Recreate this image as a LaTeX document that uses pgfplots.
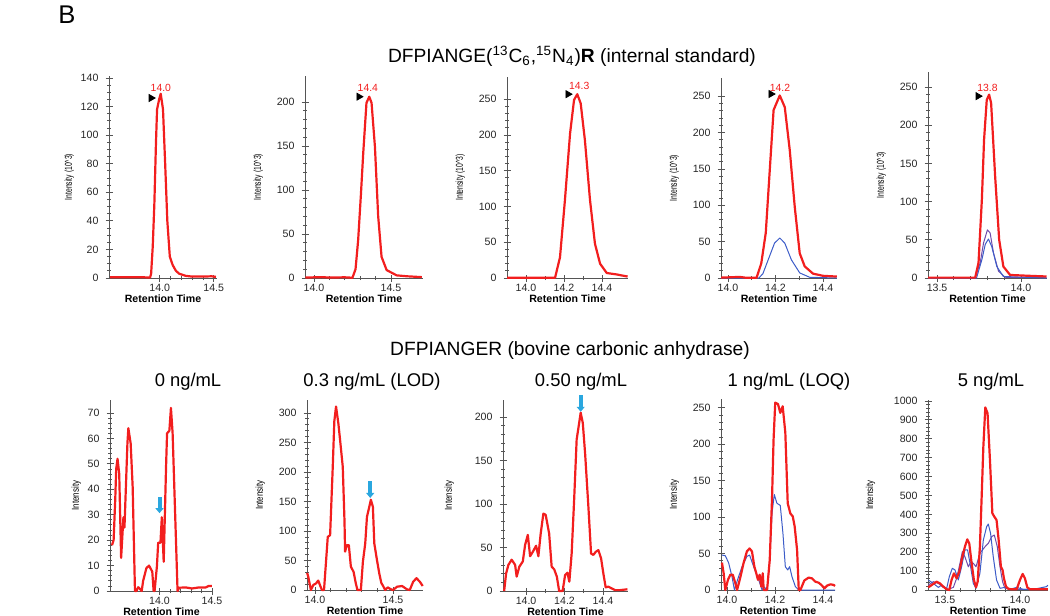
\documentclass[border=0pt]{standalone}
\usepackage{fontspec}
\setmainfont{Liberation Sans}
\usepackage{graphicx}
\usepackage{pgfplots}
\pgfplotsset{compat=1.18}
\usetikzlibrary{arrows.meta}

\definecolor{trred}{HTML}{F21E1E}
\definecolor{trblue}{HTML}{3C5CC8}
\definecolor{trpurple}{HTML}{6F4BAA}
\definecolor{arrowblue}{HTML}{2AA7DF}
\definecolor{axgray}{HTML}{555555}

\newcommand\ticksize{\fontsize{5.3}{6}\selectfont}

\pgfplotsset{
  panel/.style={
    anchor=south west, scale only axis, clip=false,
    axis lines*=left,
    axis line style={axgray, line width=0.5pt},
    tick align=center, major tick length=3.5pt, minor tick length=2pt,
    tick style={axgray, line width=0.4pt},
    tick label style={font=\ticksize, text=black!85},
    /pgf/number format/assume math mode=true,
    /pgf/number format/1000 sep={},
    scaled ticks=false,
    ymin=0,
    xticklabel style={yshift=2pt, /pgf/number format/fixed, /pgf/number format/fixed zerofill, /pgf/number format/precision=1},
    xlabel={\textbf{Retention Time}},
    xlabel style={font=\ticksize, at={(axis description cs:0.5,0)}, anchor=center, yshift=-10.5pt},
    ylabel style={font=\fontsize{5}{6}\selectfont},
  },
  top/.style={panel, ylabel={\scalebox{0.68}[1]{Intensity (10\textasciicircum 3)}}},
  bottom/.style={panel, ylabel={\scalebox{0.8}[1]{Intensity}}},
  red trace/.style={trred, line width=1.1pt, line join=round},
  blue trace/.style={trblue, line width=0.5pt, line join=round},
  purple trace/.style={trpurple, line width=0.5pt, line join=round},
  apex/.style={only marks, mark=triangle*, mark size=2pt, mark options={rotate=-90, fill=black, draw=black}, forget plot},
  pointer/.style={arrowblue, line width=2pt, -{Triangle[width=4pt, length=2.5pt]}, forget plot},
}
\newcommand\peaklabel[2]{\node[font=\fontsize{5.2}{6}\selectfont, text=trred, inner sep=0pt] at #1 {#2};}

\begin{document}
\begin{tikzpicture}
\path[use as bounding box] (0,0) rectangle (525pt,-308pt);

\begin{scope}[x=0.5pt, y=-0.5pt]
  \node[anchor=base west, inner sep=0pt, font=\fontsize{12.8}{14}\selectfont] at (58,23) {B};
  \node[anchor=base, inner sep=0pt, font=\fontsize{9.6}{11}\selectfont] at (572,62.5)
    {DFPIANGE(\textsuperscript{13}C\textsubscript{6},\textsuperscript{15}N\textsubscript{4})\textbf{R} (internal standard)};
  \node[anchor=base, inner sep=0pt, font=\fontsize{9.6}{11}\selectfont] at (570,355)
    {DFPIANGER (bovine carbonic anhydrase)};
  \begin{scope}[every node/.style={anchor=base, inner sep=0pt, font=\fontsize{9.2}{11}\selectfont}]
    \node at (188,386) {0 ng/mL};
    \node at (372,386) {0.3 ng/mL (LOD)};
    \node at (581,386) {0.50 ng/mL};
    \node at (789,386) {1 ng/mL (LOQ)};
    \node at (991,386) {5 ng/mL};
  \end{scope}
\end{scope}

% ---------------- internal standard row ----------------
\begin{axis}[top, at={(54.5pt,-139pt)}, width=54pt, height=101pt,
  ylabel shift=-3.5pt,
  xmin=13.53, xmax=14.53, ymax=141.4,
  xtick={14.0,14.5}, minor x tick num=4,
  ytick={0,20,...,140}, minor y tick num=3]
\addplot[red trace] coordinates {
  (13.54,0.6) (13.70,0.5) (13.85,0.5) (13.91,0.3) (13.92,3) (13.935,22) (13.95,52)
  (13.965,95) (13.975,118) (13.994,125) (14.009,129) (14.03,118) (14.05,80)
  (14.07,40) (14.093,15) (14.12,9) (14.15,5) (14.18,3) (14.24,1.5) (14.30,1)
  (14.40,1) (14.48,1.2) (14.52,0.8)};
\addplot[apex] coordinates {(13.92,126)};
\peaklabel{(14.01,133)}{14.0}
\end{axis}

\begin{axis}[top, at={(152.5pt,-139pt)}, width=59pt, height=101pt,
  xmin=13.942, xmax=14.708, ymax=229.5,
  xtick={14.0,14.5}, minor x tick num=4,
  ytick={0,50,...,200}, minor y tick num=4]
\addplot[red trace] coordinates {
  (13.945,0.5) (14.05,1) (14.10,0.5) (14.20,0.8) (14.25,0.3) (14.27,10) (14.287,43)
  (14.305,95) (14.32,142) (14.341,199) (14.359,206) (14.374,199) (14.396,149)
  (14.417,70) (14.439,24) (14.472,9) (14.537,3) (14.60,2) (14.65,1.5) (14.70,1)};
\addplot[apex] coordinates {(14.292,206)};
\peaklabel{(14.35,216)}{14.4}
\end{axis}

\begin{axis}[top, at={(253.5pt,-139pt)}, width=60.5pt, height=100.5pt,
  xmin=13.90, xmax=14.537, ymax=281,
  xtick={14.0,14.2,14.4}, minor x tick num=1,
  ytick={0,50,...,250}, minor y tick num=4]
\addplot[red trace] coordinates {
  (13.90,0.3) (14.0,0.3) (14.153,0.3) (14.179,29) (14.205,109) (14.232,202)
  (14.253,249) (14.27,257) (14.288,244) (14.31,193) (14.337,109) (14.363,48)
  (14.39,20) (14.425,7) (14.477,5) (14.535,2)};
\addplot[apex] coordinates {(14.221,257)};
\peaklabel{(14.28,268)}{14.3}
\end{axis}

\begin{axis}[top, at={(360.5pt,-139pt)}, width=58pt, height=100pt,
  xmin=13.9705, xmax=14.459, ymax=275,
  xtick={14.0,14.2,14.4}, minor x tick num=1,
  ytick={0,50,...,250}, minor y tick num=4]
\addplot[blue trace] coordinates {
  (13.971,0) (14.13,0) (14.147,6) (14.175,30) (14.196,48) (14.218,55) (14.239,48)
  (14.267,25) (14.302,7) (14.344,1) (14.458,0)};
\addplot[red trace] coordinates {
  (13.971,0.5) (14.049,1.5) (14.077,0.3) (14.12,0.3) (14.14,20) (14.159,62)
  (14.175,144) (14.192,231) (14.218,251) (14.239,235) (14.26,176) (14.281,98)
  (14.302,34) (14.323,16) (14.358,6) (14.40,3) (14.458,2)};
\addplot[apex] coordinates {(14.181,253)};
\peaklabel{(14.219,262)}{14.2}
\end{axis}

\begin{axis}[top, at={(464pt,-139pt)}, width=59.5pt, height=103pt,
  xmin=13.446, xmax=14.155, ymax=269.6,
  xtick={13.5,14.0}, minor x tick num=4,
  ytick={0,50,...,250}, minor y tick num=4]
\addplot[purple trace] coordinates {
  (13.447,0.3) (13.727,0.3) (13.757,20) (13.777,46) (13.80,63) (13.816,59)
  (13.836,33) (13.866,9) (13.905,1) (14.152,0.3)};
\addplot[blue trace] coordinates {
  (13.447,0) (13.735,0) (13.767,24) (13.787,44) (13.806,51) (13.826,41)
  (13.856,15) (13.895,2) (14.152,0)};
\addplot[red trace] coordinates {
  (13.447,0.5) (13.60,0.5) (13.727,0.5) (13.747,20) (13.767,103) (13.78,181)
  (13.796,233) (13.81,240) (13.822,229) (13.846,133) (13.87,50) (13.895,15)
  (13.935,4) (14.034,3) (14.152,2)};
\addplot[apex] coordinates {(13.744,238)};
\peaklabel{(13.80,249)}{13.8}
\end{axis}

% ---------------- bovine carbonic anhydrase row ----------------
\begin{axis}[bottom, at={(55pt,-295.5pt)}, width=51.5pt, height=95.5pt,
  ylabel shift=-3.5pt,
  xmin=13.528, xmax=14.51, ymax=75.1,
  xtick={14.0,14.5}, minor x tick num=4,
  ytick={0,10,...,70}, minor y tick num=4]
\addplot[red trace] coordinates {
  (13.547,18) (13.5625,20) (13.578,36) (13.587,48) (13.60,52) (13.616,46)
  (13.634,13) (13.656,29) (13.666,25) (13.694,58) (13.703,64) (13.725,58)
  (13.744,41) (13.766,0) (13.78,0) (13.797,1.5) (13.81,1) (13.83,0) (13.844,4)
  (13.875,9) (13.90,10) (13.931,7.6) (13.944,0) (13.953,0) (13.975,9.6)
  (13.9875,19) (14.009,19) (14.022,29) (14.04,11.5) (14.0625,49) (14.072,62)
  (14.094,63) (14.109,72) (14.125,62) (14.147,33) (14.172,0) (14.1875,1.3)
  (14.25,1.4) (14.31,1) (14.375,1.4) (14.44,1.4) (14.47,2) (14.50,2)};
\addplot[pointer] coordinates {(14.0,37) (14.0,30.6)};
\end{axis}

\begin{axis}[bottom, at={(153.5pt,-295pt)}, width=58pt, height=95pt,
  xmin=13.949, xmax=14.692, ymax=322,
  xtick={14.0,14.5}, minor x tick num=4,
  ytick={0,50,...,300}, minor y tick num=4]
\addplot[red trace] coordinates {
  (13.95,29) (13.957,22.6) (13.974,0) (13.989,8.5) (14.006,11) (14.021,16)
  (14.036,5.6) (14.045,0) (14.058,0) (14.082,90) (14.097,93) (14.114,209)
  (14.124,286) (14.135,311) (14.15,282) (14.161,254) (14.178,209) (14.189,118)
  (14.193,65) (14.204,76) (14.217,76) (14.23,39.5) (14.247,31) (14.262,11)
  (14.272,0) (14.294,0) (14.307,48) (14.322,79) (14.333,124) (14.348,141)
  (14.358,153) (14.371,141) (14.38,79) (14.397,51) (14.412,28) (14.425,12)
  (14.436,7) (14.45,0) (14.466,4.5) (14.483,1.7) (14.50,0) (14.526,5.6)
  (14.558,6.8) (14.59,1) (14.607,0) (14.629,14) (14.65,20) (14.672,14) (14.69,6.8)};
\addplot[pointer] coordinates {(14.354,184) (14.354,156)};
\end{axis}

\begin{axis}[bottom, at={(251.5pt,-295.5pt)}, width=62.5pt, height=95.5pt,
  ylabel shift=3.5pt,
  xmin=13.88, xmax=14.53, ymax=219.5,
  xtick={14.0,14.2,14.4}, minor x tick num=1,
  ytick={0,50,...,200}, minor y tick num=4]
\addplot[red trace] coordinates {
  (13.886,0) (13.896,20) (13.908,30) (13.925,36) (13.943,30) (13.951,16.5)
  (13.965,28) (13.983,34) (13.995,53) (14.009,64.5) (14.021,40) (14.035,45)
  (14.052,52) (14.064,40) (14.076,66) (14.09,89) (14.102,87.5) (14.12,66)
  (14.133,28) (14.146,25) (14.16,16.5) (14.172,0) (14.19,0) (14.203,18.4)
  (14.215,21) (14.225,10.7) (14.237,43) (14.25,105) (14.263,174) (14.276,193)
  (14.284,205) (14.295,193) (14.307,158) (14.324,97) (14.338,43) (14.35,41.5)
  (14.362,45) (14.376,47) (14.39,37.6) (14.402,20) (14.414,4.2) (14.428,5)
  (14.445,3) (14.463,1) (14.489,1) (14.527,2)};
\addplot[pointer] coordinates {(14.284,225) (14.284,206)};
\end{axis}

\begin{axis}[bottom, at={(360.5pt,-295pt)}, width=57pt, height=95.5pt,
  xmin=13.975, xmax=14.45, ymax=262,
  xtick={14.0,14.2,14.4}, minor x tick num=1,
  ytick={0,50,...,250}, minor y tick num=4]
\addplot[blue trace] coordinates {
  (13.979,48) (13.993,47) (14.007,37) (14.021,18) (14.031,0) (14.044,14)
  (14.0625,32) (14.083,46) (14.094,48) (14.111,32) (14.132,14) (14.146,0)
  (14.153,4.6) (14.167,0) (14.178,41) (14.1875,105) (14.197,131) (14.208,119)
  (14.222,116) (14.233,78) (14.243,32) (14.253,27.5) (14.261,32) (14.271,18)
  (14.285,4.6) (14.299,0) (14.45,0)};
\addplot[red trace] coordinates {
  (13.979,37.6) (13.986,23) (13.993,0) (14.004,14) (14.014,21) (14.024,21)
  (14.035,9) (14.042,0) (14.056,18) (14.069,37) (14.083,53) (14.094,57)
  (14.104,53) (14.114,32) (14.122,23) (14.129,14) (14.136,21) (14.143,4.6)
  (14.149,23) (14.153,0) (14.167,0) (14.178,41) (14.1875,124) (14.194,206)
  (14.201,257) (14.2125,255) (14.222,243) (14.232,252) (14.243,216) (14.253,119)
  (14.264,105) (14.274,101) (14.282,87) (14.292,55) (14.299,0) (14.306,0)
  (14.322,13) (14.34,17) (14.354,16) (14.368,11.5) (14.382,10) (14.393,7)
  (14.406,2.3) (14.417,6) (14.431,7.8) (14.444,7) (14.45,5.5)};
\end{axis}

\begin{axis}[bottom, at={(464pt,-295pt)}, width=60pt, height=95pt,
  ylabel shift=2.5pt,
  xmin=13.387, xmax=14.187, ymax=1005,
  xtick={13.5,14.0}, minor x tick num=4,
  ytick={0,100,...,1000}, minor y tick num=4]
\addplot[purple trace] coordinates {
  (13.389,26) (13.422,44) (13.456,35) (13.489,14) (13.522,3.5) (13.556,14)
  (13.578,62) (13.60,141) (13.616,203) (13.633,176) (13.656,123) (13.673,150)
  (13.689,141) (13.707,123) (13.733,194) (13.767,229) (13.789,247) (13.811,282)
  (13.829,291) (13.849,229) (13.867,123) (13.884,44) (13.90,9) (13.933,3.5)
  (14.186,3.5)};
\addplot[blue trace] coordinates {
  (13.389,53) (13.422,35) (13.456,14) (13.478,26) (13.493,18) (13.511,7)
  (13.529,70) (13.549,115) (13.567,106) (13.589,53) (13.611,123) (13.633,212)
  (13.651,212) (13.671,123) (13.689,35) (13.707,9) (13.733,88) (13.756,265)
  (13.778,335) (13.789,349) (13.804,300) (13.822,176) (13.844,53) (13.867,9)
  (13.90,14) (13.933,3.5) (13.978,14) (14.022,3.5) (14.089,3.5) (14.178,18) (14.186,26)};
\addplot[red trace] coordinates {
  (13.389,14) (13.411,26) (13.444,44) (13.467,35) (13.489,18) (13.511,4)
  (13.529,0) (13.544,53) (13.56,88) (13.578,62) (13.596,97) (13.616,176)
  (13.633,229) (13.649,268) (13.662,247) (13.678,141) (13.693,53) (13.707,14)
  (13.718,44) (13.733,229) (13.744,476) (13.756,758) (13.769,966) (13.784,935)
  (13.80,688) (13.816,406) (13.829,388) (13.844,370) (13.858,265) (13.873,123)
  (13.884,106) (13.893,62) (13.907,18) (13.922,7) (13.944,3.5) (13.978,3.5)
  (14.0,53) (14.018,85) (14.033,62) (14.049,14) (14.067,3.5) (14.111,3.5) (14.186,3.5)};
\end{axis}
\end{tikzpicture}
\end{document}
